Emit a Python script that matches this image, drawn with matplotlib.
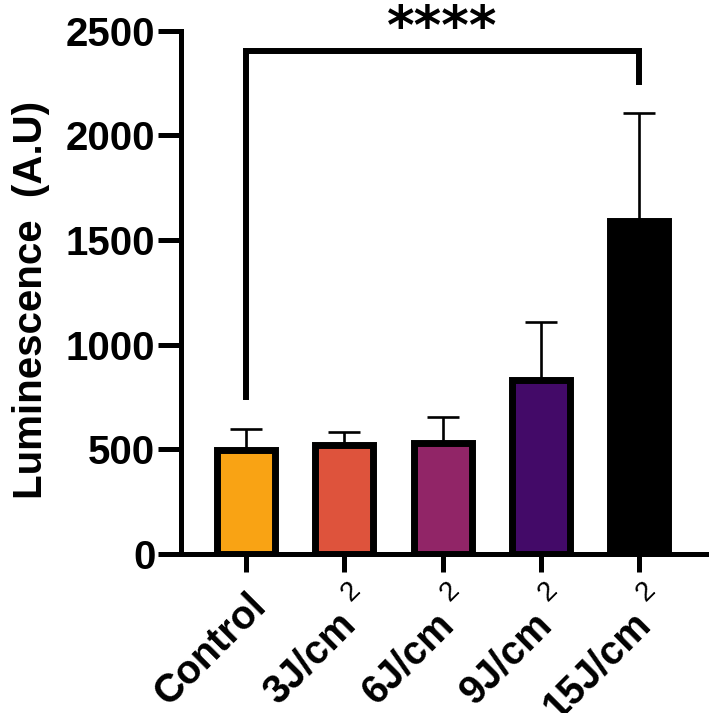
import matplotlib
matplotlib.use("Agg")
import matplotlib.pyplot as plt

categories = ["Control", "3J/cm", "6J/cm", "9J/cm", "15J/cm"]
superscripts = ["", "2", "2", "2", "2"]
means = [495, 519, 531, 833, 1590]
sds = [103, 64, 125, 275, 516]
colors = ["#F9A314", "#DE533C", "#912567", "#430A68", "#000000"]
yticks = [0, 500, 1000, 1500, 2000, 2500]
bracket_y = 2402
bracket_left_bottom = 750
bracket_right_bottom = 2254
sig_label = "****"

plt.rcParams["font.family"] = ["Liberation Sans", "DejaVu Sans"]

fig = plt.figure(figsize=(7.09, 7.13), dpi=100)
ax = fig.add_axes([0.2553, 0.223, 0.742, 0.734])

x = list(range(len(categories)))
ax.bar(x, means, width=0.59, color=colors, edgecolor="black", linewidth=5, zorder=3)
ax.errorbar(x, means, yerr=[[0]*len(sds), sds], fmt="none", ecolor="black",
            elinewidth=1.9, capsize=11.5, capthick=1.9, zorder=2)

ax.set_xlim(-0.662, 4.69)
ax.set_ylim(0, 2500)
ax.set_yticks(yticks)
ax.set_yticklabels([str(v) for v in yticks], fontsize=29, fontweight="bold")
ax.set_xticks(x)
ax.set_xticklabels([])

for s in ["top", "right"]:
    ax.spines[s].set_visible(False)
for s in ["left", "bottom"]:
    ax.spines[s].set_linewidth(3.6)
ax.tick_params(axis="y", length=16.5, width=3.6, pad=2)
ax.tick_params(axis="x", length=13, width=3.6)

# x category labels (rotated, superscript raised as in the original)
trans = ax.get_xaxis_transform()
for xi, lab, sup in zip(x, categories, superscripts):
    if sup:
        ax.annotate(lab, xy=(xi, 0), xycoords=trans, xytext=(-5.8, -36.5),
                    textcoords="offset points", ha="right", va="top",
                    rotation=45, rotation_mode="anchor",
                    fontsize=28.5, fontweight="bold", annotation_clip=False)
        ax.annotate(sup, xy=(xi, 0), xycoords=trans, xytext=(2.4, -16.5),
                    textcoords="offset points", ha="right", va="top",
                    rotation=45, rotation_mode="anchor",
                    fontsize=20, annotation_clip=False)
    else:
        ax.annotate(lab, xy=(xi, 0), xycoords=trans, xytext=(0.5, -23.5),
                    textcoords="offset points", ha="right", va="top",
                    rotation=45, rotation_mode="anchor",
                    fontsize=28.5, fontweight="bold", annotation_clip=False)

fig.text(31 / 709, 0.579, "Luminescence  (A.U)", rotation=90, ha="center",
         va="center", fontsize=29, fontweight="bold")

# significance bracket
ax.plot([x[0], x[0], x[-1], x[-1]],
        [bracket_left_bottom, bracket_y, bracket_y, bracket_right_bottom],
        color="black", linewidth=4.3, clip_on=False, solid_joinstyle="miter", zorder=4)
ax.text((x[0] + x[-1]) / 2, 2435, sig_label, ha="center", va="baseline",
        fontsize=38, fontweight="bold", family=["DejaVu Sans"], clip_on=False)

fig.savefig("out.png", dpi=100)
